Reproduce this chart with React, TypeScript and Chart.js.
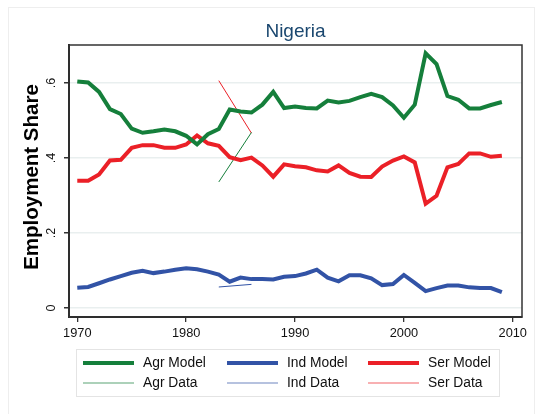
import React, { useEffect, useRef } from "react";
import { Chart, registerables } from "chart.js";
Chart.register(...registerables);

const years = [1970, 1971, 1972, 1973, 1974, 1975, 1976, 1977, 1978, 1979, 1980, 1981, 1982, 1983, 1984, 1985, 1986, 1987, 1988, 1989, 1990, 1991, 1992, 1993, 1994, 1995, 1996, 1997, 1998, 1999, 2000, 2001, 2002, 2003, 2004, 2005, 2006, 2007, 2008, 2009];
const agrModel = [0.604, 0.601, 0.576, 0.530, 0.517, 0.478, 0.467, 0.471, 0.476, 0.471, 0.459, 0.436, 0.463, 0.477, 0.529, 0.524, 0.521, 0.542, 0.576, 0.533, 0.537, 0.533, 0.532, 0.553, 0.548, 0.552, 0.562, 0.571, 0.562, 0.540, 0.507, 0.542, 0.679, 0.650, 0.565, 0.555, 0.532, 0.532, 0.541, 0.549];
const indModel = [0.054, 0.056, 0.066, 0.076, 0.085, 0.094, 0.099, 0.093, 0.097, 0.102, 0.106, 0.103, 0.097, 0.089, 0.070, 0.081, 0.077, 0.077, 0.076, 0.083, 0.085, 0.092, 0.102, 0.081, 0.071, 0.087, 0.087, 0.079, 0.061, 0.064, 0.088, 0.067, 0.045, 0.053, 0.060, 0.060, 0.055, 0.053, 0.053, 0.042];
const serModel = [0.339, 0.339, 0.356, 0.393, 0.395, 0.427, 0.434, 0.434, 0.427, 0.427, 0.436, 0.460, 0.439, 0.432, 0.402, 0.394, 0.401, 0.380, 0.350, 0.383, 0.378, 0.375, 0.367, 0.364, 0.380, 0.360, 0.350, 0.349, 0.377, 0.393, 0.404, 0.388, 0.278, 0.299, 0.375, 0.384, 0.412, 0.412, 0.403, 0.406];
const dataYears = [1983, 1986];
const agrData = [0.336, 0.468];
const indData = [0.056, 0.063];
const serData = [0.606, 0.466];
const xTicks = [1970, 1980, 1990, 2000, 2010];
const yTicks = [0, 0.2, 0.4, 0.6];
const yTickLabels = ["0", ".2", ".4", ".6"];
const titleText = "Nigeria";
const yTitleText = "Employment Share";

const GREEN = "#157f3b";
const BLUE = "#3253a6";
const RED = "#eb2027";
const FONT = "'Liberation Sans', Arial, Helvetica, sans-serif";

const pts = (xs: number[], ys: number[]) => xs.map((x, i) => ({ x, y: ys[i] }));

const decor = {
  id: "decor",
  beforeDraw(chart: any) {
    const ctx = chart.ctx;
    ctx.save();
    ctx.fillStyle = "#ffffff";
    ctx.fillRect(0, 0, chart.width, chart.height);
    ctx.strokeStyle = "#eeeeee";
    ctx.lineWidth = 1;
    ctx.strokeRect(8.5, 7.5, chart.width - 11, chart.height + 10);
    ctx.restore();
  },
  afterDraw(chart: any) {
    const ctx = chart.ctx;
    const a = chart.chartArea;
    const ys = chart.scales.y;
    ctx.save();
    ctx.strokeStyle = "#333333";
    ctx.lineWidth = 1.5;
    ctx.strokeRect(a.left, a.top, a.right - a.left, a.bottom - a.top);
    ctx.fillStyle = "#1a476f";
    ctx.font = `19px ${FONT}`;
    ctx.textAlign = "center";
    ctx.textBaseline = "middle";
    ctx.fillText(titleText, (a.left + a.right) / 2, 32);
    ctx.save();
    ctx.translate(32, 177);
    ctx.rotate(-Math.PI / 2);
    ctx.fillStyle = "#000000";
    ctx.font = `bold 20.5px ${FONT}`;
    ctx.fillText(yTitleText, 0, 0);
    ctx.restore();
    ctx.font = `12.6px ${FONT}`;
    ctx.fillStyle = "#111111";
    yTicks.forEach((v, i) => {
      const py = ys.getPixelForValue(v);
      ctx.save();
      ctx.translate(52, py);
      ctx.rotate(-Math.PI / 2);
      ctx.fillText(yTickLabels[i], 0, 0);
      ctx.restore();
    });
    ctx.fillStyle = "#ffffff";
    ctx.fillRect(76, 349, 423, 47);
    ctx.strokeStyle = "#e4e4e4";
    ctx.lineWidth = 1;
    ctx.strokeRect(76.5, 349.5, 423, 47);
    const colX = [83, 227, 368];
    const rowY = [363, 383];
    ctx.font = `13.8px ${FONT}`;
    ctx.textAlign = "left";
    chart.data.datasets.forEach((ds: any, i: number) => {
      const c = i % 3;
      const r = Math.floor(i / 3);
      const x = colX[c];
      const y = rowY[r];
      ctx.strokeStyle = ds.borderColor;
      ctx.lineWidth = r === 0 ? 4 : 1.2;
      ctx.globalAlpha = r === 0 ? 1 : 0.7;
      ctx.beginPath();
      ctx.moveTo(x, y);
      ctx.lineTo(x + 51, y);
      ctx.stroke();
      ctx.globalAlpha = 1;
      ctx.fillStyle = "#111111";
      ctx.fillText(ds.label, x + 60, y + 0.5);
    });
    ctx.restore();
  },
};

export default function App() {
  const ref = useRef<HTMLCanvasElement | null>(null);
  useEffect(() => {
    document.body.style.margin = "0";
    const canvas = ref.current!;
    const chart = new Chart(canvas, {
      type: "line",
      data: {
        datasets: [
          { label: "Agr Model", data: pts(years, agrModel), borderColor: GREEN, borderWidth: 4 },
          { label: "Ind Model", data: pts(years, indModel), borderColor: BLUE, borderWidth: 4 },
          { label: "Ser Model", data: pts(years, serModel), borderColor: RED, borderWidth: 4 },
          { label: "Agr Data", data: pts(dataYears, agrData), borderColor: GREEN, borderWidth: 1 },
          { label: "Ind Data", data: pts(dataYears, indData), borderColor: BLUE, borderWidth: 1 },
          { label: "Ser Data", data: pts(dataYears, serData), borderColor: RED, borderWidth: 1 },
        ],
      },
      options: {
        responsive: false,
        animation: false,
        devicePixelRatio: 1,
        layout: { padding: { top: 45, right: 15, left: 0, bottom: 0 } },
        elements: { point: { radius: 0 }, line: { tension: 0, borderJoinStyle: "miter" } },
        plugins: { legend: { display: false }, title: { display: false }, tooltip: { enabled: false } },
        scales: {
          x: {
            type: "linear",
            min: 1969.24,
            max: 2010.85,
            afterBuildTicks: (s: any) => {
              s.ticks = xTicks.map((v) => ({ value: v }));
            },
            ticks: {
              font: { family: FONT, size: 12.8 },
              color: "#111111",
              padding: 4,
              maxRotation: 0,
              minRotation: 0,
              autoSkip: false,
              callback: (v: any) => String(v),
            },
            grid: { drawOnChartArea: false, drawTicks: true, tickLength: 5, tickColor: "#333333", lineWidth: 1.3 },
            border: { display: true, color: "#222222", width: 2 },
            afterFit: (s: any) => {
              s.height = 97;
              s.paddingLeft = 0;
              s.paddingRight = 0;
            },
          },
          y: {
            type: "linear",
            min: -0.024,
            max: 0.701,
            afterBuildTicks: (s: any) => {
              s.ticks = yTicks.map((v) => ({ value: v }));
            },
            ticks: { display: false },
            grid: { color: "#e9efef", lineWidth: 1.5, drawTicks: true, tickLength: 5, tickColor: "#333333" },
            border: { display: true, color: "#222222", width: 2 },
            afterFit: (s: any) => {
              s.width = 69;
              s.paddingTop = 0;
              s.paddingBottom = 0;
            },
          },
        },
      },
      plugins: [decor],
    } as any);
    return () => chart.destroy();
  }, []);
  return (
    <div style={{ width: 537, height: 414 }}>
      <canvas ref={ref} width={537} height={414} style={{ display: "block" }} />
    </div>
  );
}
